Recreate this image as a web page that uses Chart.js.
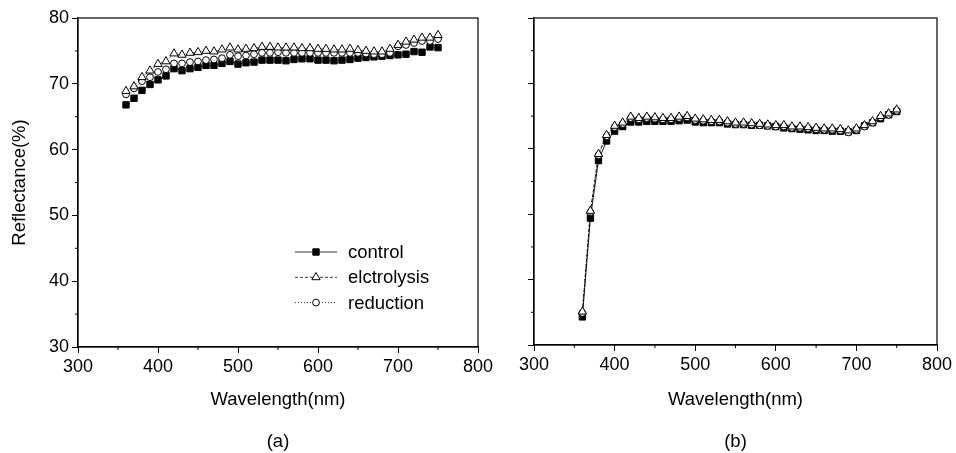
<!DOCTYPE html>
<html>
<head>
<meta charset="utf-8">
<script src="https://cdn.jsdelivr.net/npm/chart.js@4.4.1/dist/chart.umd.min.js"></script>
<style>
  html, body { margin: 0; padding: 0; background: #fff; }
  #wrap { position: relative; width: 956px; height: 453px; }
  #boxA { position: absolute; left: 0; top: 0; width: 505px; height: 453px; }
  #boxB { position: absolute; left: 505px; top: 0; width: 451px; height: 453px; }
</style>
</head>
<body>
<div id="wrap">
  <div id="boxA"><canvas id="chartA"></canvas></div>
  <div id="boxB"><canvas id="chartB"></canvas></div>
</div>
<script>
// wavelength (nm) of every measured point
const wavelengths = [360, 370, 380, 390, 400, 410, 420, 430, 440, 450,
                     460, 470, 480, 490, 500, 510, 520, 530, 540, 550,
                     560, 570, 580, 590, 600, 610, 620, 630, 640, 650,
                     660, 670, 680, 690, 700, 710, 720, 730, 740, 750];

const seriesNames = ['control', 'elctrolysis', 'reduction'];

// panel (a)
const controlA = [66.8, 67.8, 69.0, 69.9, 70.6, 71.2, 72.3, 72.0, 72.3, 72.5,
                  72.8, 72.8, 73.1, 73.4, 73.0, 73.2, 73.3, 73.6, 73.6, 73.6,
                  73.5, 73.7, 73.8, 73.8, 73.6, 73.6, 73.5, 73.6, 73.7, 73.9,
                  74.0, 74.1, 74.2, 74.3, 74.4, 74.5, 74.9, 74.8, 75.6, 75.5];
const elctrolysisA = [68.9, 69.6, 71.0, 72.0, 73.0, 73.4, 74.6, 74.4, 74.7, 74.8,
                      75.0, 74.9, 75.2, 75.5, 75.2, 75.3, 75.4, 75.6, 75.6, 75.5,
                      75.5, 75.5, 75.4, 75.4, 75.3, 75.3, 75.2, 75.2, 75.3, 75.1,
                      75.0, 74.9, 74.9, 75.3, 75.9, 76.4, 76.7, 77.0, 77.0, 77.4];
const reductionA = [68.4, 69.3, 70.4, 71.0, 71.8, 72.2, 73.1, 73.1, 73.3, 73.4,
                    73.6, 73.7, 73.9, 74.4, 74.2, 74.3, 74.5, 74.7, 74.7, 74.8,
                    74.7, 74.7, 74.7, 74.7, 74.7, 74.7, 74.7, 74.7, 74.7, 74.7,
                    74.6, 74.5, 74.5, 74.7, 75.7, 75.9, 76.2, 76.5, 76.5, 76.8];

// panel (b)
const controlB = [34.3, 49.4, 58.2, 61.2, 62.7, 63.4, 64.1, 64.1, 64.2, 64.2,
                  64.2, 64.2, 64.3, 64.4, 64.1, 64.0, 64.0, 64.0, 63.8, 63.7,
                  63.7, 63.6, 63.6, 63.5, 63.4, 63.2, 63.1, 63.0, 62.9, 62.8,
                  62.8, 62.7, 62.7, 62.6, 62.8, 63.5, 64.0, 64.6, 65.2, 65.7];
const elctrolysisB = [35.1, 50.5, 59.2, 62.1, 63.5, 64.0, 64.9, 64.7, 64.9, 64.8,
                      64.7, 64.7, 64.9, 65.0, 64.6, 64.5, 64.4, 64.4, 64.2, 64.0,
                      64.0, 63.9, 63.8, 63.7, 63.6, 63.6, 63.4, 63.4, 63.3, 63.2,
                      63.1, 63.1, 63.0, 62.8, 63.1, 63.6, 64.2, 65.0, 65.4, 66.0];
const reductionB = [34.9, 50.3, 59.0, 61.9, 63.3, 63.8, 64.7, 64.5, 64.7, 64.6,
                    64.5, 64.5, 64.7, 64.8, 64.4, 64.3, 64.2, 64.2, 64.0, 63.8,
                    63.8, 63.7, 63.6, 63.5, 63.4, 63.4, 63.2, 63.2, 63.1, 63.0,
                    62.9, 62.9, 62.8, 62.5, 62.9, 63.4, 64.0, 64.8, 65.2, 65.8];

const xTicks = [300, 400, 500, 600, 700, 800];
const yTicks = [30, 40, 50, 60, 70, 80];

Chart.defaults.font.family = '"Liberation Sans", Arial, sans-serif';
Chart.defaults.font.size = 18;
Chart.defaults.color = '#000';

function pts(vals) {
    return wavelengths.map((w, i) => ({ x: w, y: vals[i] }));
}

const styles = [
    { pointStyle: 'rect', pointRadius: 4.5, bg: '#000', dash: [], order: 3 },
    { pointStyle: 'triangle', pointRadius: 4.8, bg: '#fff', dash: [3, 2], order: 1 },
    { pointStyle: 'circle', pointRadius: 3.4, bg: '#fff', dash: [1, 2], order: 2 }
];

function makeSets(lists, lineW) {
    return lists.map((vals, i) => ({
        label: seriesNames[i],
        data: pts(vals),
        borderColor: '#000',
        borderWidth: lineW,
        borderDash: styles[i].dash,
        pointStyle: styles[i].pointStyle,
        pointRadius: styles[i].pointRadius,
        pointBackgroundColor: styles[i].bg,
        pointBorderColor: '#000',
        pointBorderWidth: 1,
        order: styles[i].order,
        tension: 0
    }));
}

// box around the plot + small minor ticks
const framePlugin = {
    id: 'frame',
    afterDraw(chart) {
        const ctx = chart.ctx, a = chart.chartArea;
        const xs = chart.scales.x, ys = chart.scales.y;
        ctx.save();
        ctx.strokeStyle = '#000';
        ctx.lineWidth = 1.2;
        ctx.strokeRect(a.left, a.top, a.right - a.left, a.bottom - a.top);
        ctx.lineWidth = 1;
        ctx.beginPath();
        for (let v = 350; v < 800; v += 100) {
            let px = xs.getPixelForValue(v);
            ctx.moveTo(px, a.bottom);
            ctx.lineTo(px, a.bottom + 3);
        }
        for (let v = 35; v < 80; v += 10) {
            let py = ys.getPixelForValue(v);
            ctx.moveTo(a.left, py);
            ctx.lineTo(a.left - 3, py);
        }
        ctx.stroke();
        ctx.restore();
    }
};

function drawMarker(ctx, st, x, y) {
    const r = st.pointRadius;
    ctx.beginPath();
    if (st.pointStyle === 'rect') {
        let s = r * Math.SQRT1_2;
        ctx.rect(x - s, y - s, 2 * s, 2 * s);
    } else if (st.pointStyle === 'triangle') {
        ctx.moveTo(x, y - r);
        ctx.lineTo(x + r * Math.sin(Math.PI / 3), y + r * 0.5);
        ctx.lineTo(x - r * Math.sin(Math.PI / 3), y + r * 0.5);
        ctx.closePath();
    } else {
        ctx.arc(x, y, r, 0, Math.PI * 2);
    }
    ctx.fillStyle = st.bg;
    ctx.fill();
    ctx.stroke();
}

// legend inside panel (a), line + marker + name
const legendPlugin = {
    id: 'insideLegend',
    afterDraw(chart) {
        const ctx = chart.ctx, a = chart.chartArea;
        const x0 = a.left + 217, y0 = a.top + 234;
        ctx.save();
        ctx.strokeStyle = '#000';
        ctx.font = '18.5px "Liberation Sans", Arial, sans-serif';
        ctx.textBaseline = 'middle';
        seriesNames.forEach((name, i) => {
            const st = styles[i];
            const y = y0 + i * 25.3;
            ctx.lineWidth = 0.8;
            ctx.setLineDash(st.dash);
            ctx.beginPath();
            ctx.moveTo(x0, y);
            ctx.lineTo(x0 + 42, y);
            ctx.stroke();
            ctx.setLineDash([]);
            ctx.lineWidth = 1;
            drawMarker(ctx, st, x0 + 21, y);
            ctx.fillStyle = '#000';
            ctx.fillText(name, x0 + 53, y + 1);
        });
        ctx.restore();
    }
};

function makeOptions(cfg) {
    return {
        responsive: true,
        maintainAspectRatio: false,
        animation: false,
        layout: { padding: { top: 18, right: cfg.padRight, left: 0, bottom: 0 } },
        plugins: { legend: { display: false }, tooltip: { enabled: false } },
        scales: {
            x: {
                type: 'linear',
                min: 300, max: 800,
                afterBuildTicks: s => { s.ticks = xTicks.map(v => ({ value: v })); },
                afterFit: s => { s.height = cfg.xHeight; },
                border: { display: true, color: '#000', width: 1.2 },
                grid: { drawOnChartArea: false, drawTicks: true, tickLength: 6, tickColor: '#000' },
                ticks: { padding: 3, maxRotation: 0, font: { size: 18 } },
                title: {
                    display: true,
                    text: ['Wavelength(nm)', '', cfg.tag],
                    font: { size: 18.5, lineHeight: 1.13 },
                    padding: { top: 0, bottom: 1 }
                }
            },
            y: {
                type: 'linear',
                min: 30, max: 80,
                afterBuildTicks: s => { s.ticks = yTicks.map(v => ({ value: v })); },
                afterFit: s => { s.width = cfg.yWidth; },
                border: { display: true, color: '#000', width: 1.2 },
                grid: { drawOnChartArea: false, drawTicks: true, tickLength: 6, tickColor: '#000' },
                ticks: { display: cfg.yLabels, padding: 3, font: { size: 18 } },
                title: {
                    display: cfg.yLabels,
                    text: 'Reflectance(%)',
                    font: { size: 18.5 },
                    padding: { top: 9, bottom: 0 }
                }
            }
        }
    };
}

new Chart(document.getElementById('chartA'), {
    type: 'line',
    data: { datasets: makeSets([controlA, elctrolysisA, reductionA], 0.6) },
    options: makeOptions({ padRight: 27, xHeight: 106, yWidth: 78, yLabels: true, tag: '(a)' }),
    plugins: [framePlugin, legendPlugin]
});

new Chart(document.getElementById('chartB'), {
    type: 'line',
    data: { datasets: makeSets([controlB, elctrolysisB, reductionB], 0.9) },
    options: makeOptions({ padRight: 19, xHeight: 108, yWidth: 29, yLabels: false, tag: '(b)' }),
    plugins: [framePlugin]
});
</script>
</body>
</html>
